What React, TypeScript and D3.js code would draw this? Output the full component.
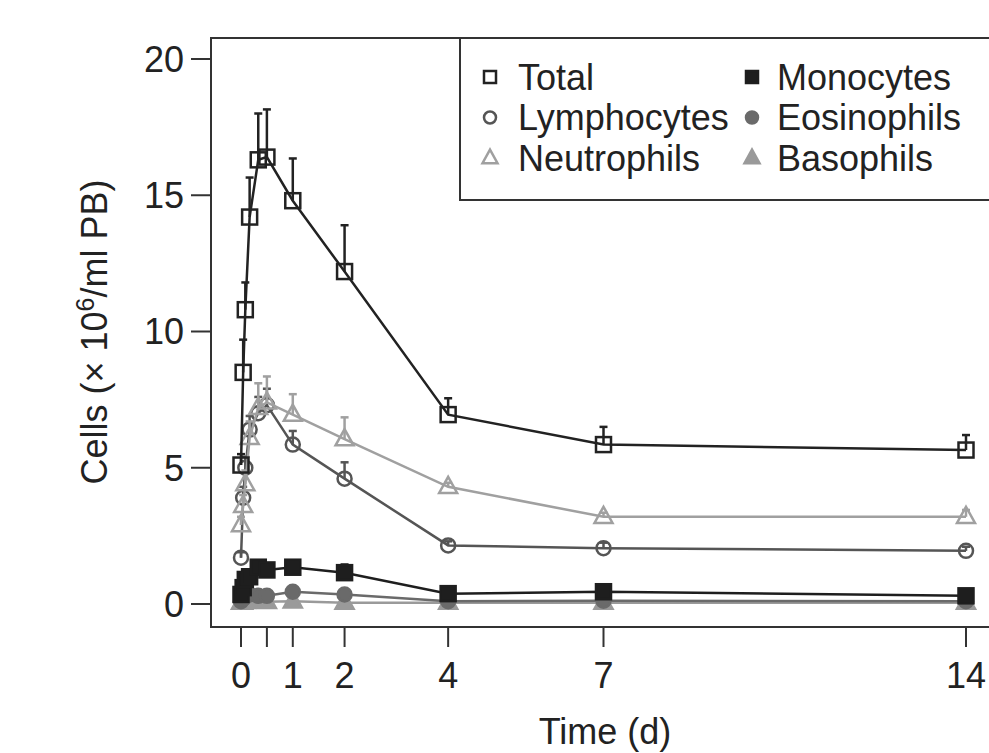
import React from 'react';
import * as d3 from 'd3';

// sampling times in days (0, 1h, 2h, 4h, 8h, 12h, then days)
const times = [0, 1 / 24, 2 / 24, 4 / 24, 8 / 24, 12 / 24, 1, 2, 4, 7, 14];
const xTicks = [0, 0.5, 1, 2, 4, 7, 14];
const xTickLabels = ['0', '', '1', '2', '4', '7', '14'];
const yTicks = [0, 5, 10, 15, 20];

const total = [5.1, 8.5, 10.8, 14.2, 16.3, 16.4, 14.8, 12.2, 6.95, 5.85, 5.65];
const totalErr = [0.4, 1.2, 1.0, 1.45, 1.7, 1.75, 1.55, 1.7, 0.6, 0.65, 0.55];
const lymphocytes = [1.7, 3.9, 5.0, 6.4, 7.0, 7.3, 5.85, 4.6, 2.15, 2.05, 1.95];
const lymphocytesErr = [0.2, 0.4, 0.4, 0.5, 0.6, 0.6, 0.5, 0.6, 0.15, 0.2, 0.15];
const neutrophils = [2.9, 3.6, 4.4, 6.1, 7.2, 7.4, 6.95, 6.05, 4.3, 3.2, 3.2];
const neutrophilsErr = [0.3, 0.4, 0.5, 0.6, 0.9, 0.95, 0.75, 0.8, 0.15, 0.15, 0.25];
const monocytes = [0.35, 0.6, 0.9, 1.0, 1.35, 1.25, 1.35, 1.15, 0.38, 0.45, 0.3];
const monocytesErr = [0.05, 0.1, 0.1, 0.15, 0.2, 0.1, 0.1, 0.3, 0.05, 0.05, 0.05];
const eosinophils = [0.1, 0.2, 0.3, 0.35, 0.3, 0.3, 0.45, 0.35, 0.1, 0.12, 0.1];
const eosinophilsErr = [0.02, 0.05, 0.05, 0.05, 0.05, 0.05, 0.1, 0.05, 0.02, 0.02, 0.02];
const basophils = [0.05, 0.05, 0.08, 0.1, 0.1, 0.08, 0.1, 0.05, 0.05, 0.05, 0.05];

type Shape = 'square' | 'circle' | 'triangle';
interface Series {
  name: string;
  values: number[];
  err: number[] | null;
  color: string;
  shape: Shape;
  filled: boolean;
}

const series: Series[] = [
  { name: 'Basophils', values: basophils, err: null, color: '#9a9a9a', shape: 'triangle', filled: true },
  { name: 'Eosinophils', values: eosinophils, err: eosinophilsErr, color: '#6a6a6a', shape: 'circle', filled: true },
  { name: 'Lymphocytes', values: lymphocytes, err: lymphocytesErr, color: '#555555', shape: 'circle', filled: false },
  { name: 'Neutrophils', values: neutrophils, err: neutrophilsErr, color: '#a0a0a0', shape: 'triangle', filled: false },
  { name: 'Monocytes', values: monocytes, err: monocytesErr, color: '#1e1e1e', shape: 'square', filled: true },
  { name: 'Total', values: total, err: totalErr, color: '#222222', shape: 'square', filled: false },
];

const legendOrder = ['Total', 'Lymphocytes', 'Neutrophils', 'Monocytes', 'Eosinophils', 'Basophils'];

const W = 989;
const H = 753;
const FONT = '"Liberation Sans", Arial, sans-serif';
const FS = 36;

const Marker = ({ shape, filled, color, x, y, s, sw }: { shape: Shape; filled: boolean; color: string; x: number; y: number; s: number; sw: number }) => {
  if (shape === 'square') {
    return <rect x={x - s / 2} y={y - s / 2} width={s} height={s} fill={filled ? color : 'none'} stroke={color} strokeWidth={sw} />;
  }
  if (shape === 'circle') {
    return <circle cx={x} cy={y} r={s / 2} fill={filled ? color : 'none'} stroke={color} strokeWidth={sw} />;
  }
  const h = s * 0.9;
  const pts = [[x, y - h * 0.62], [x + s / 2, y + h * 0.38], [x - s / 2, y + h * 0.38]];
  return <polygon points={pts.map(p => p.join(',')).join(' ')} fill={filled ? color : 'none'} stroke={color} strokeWidth={sw} />;
};

const App = () => {
  const x = d3.scaleLinear().domain([0, 14]).range([241, 966]);
  const y = d3.scaleLinear().domain([0, 20]).range([604, 59]);
  const line = d3.line<number>().x((_, i) => x(times[i])).y(d => y(d));

  const box = { left: 211, top: 38, right: 1000, bottom: 627 };

  return (
    <svg width={W} height={H} style={{ position: 'absolute', left: 0, top: 0, background: '#fff' }} fontFamily={FONT}>
      <rect x={0} y={0} width={W} height={H} fill="#fff" />
      {/* plot box */}
      <rect x={box.left} y={box.top} width={box.right - box.left} height={box.bottom - box.top} fill="none" stroke="#333" strokeWidth={2} />

      {/* y axis */}
      {yTicks.map(t => (
        <g key={t}>
          <line x1={191} x2={box.left} y1={y(t)} y2={y(t)} stroke="#333" strokeWidth={2} />
          <text x={184} y={y(t)} dy="0.36em" textAnchor="end" fontSize={FS} fill="#222">{t}</text>
        </g>
      ))}
      {/* x axis */}
      {xTicks.map((t, i) => (
        <g key={t}>
          <line x1={x(t)} x2={x(t)} y1={box.bottom} y2={647} stroke="#333" strokeWidth={2} />
          <text x={x(t)} y={688} textAnchor="middle" fontSize={FS} fill="#222">{xTickLabels[i]}</text>
        </g>
      ))}
      <text x={605} y={744} textAnchor="middle" fontSize={FS} fill="#222">Time (d)</text>
      <text transform="translate(107,332) rotate(-90)" textAnchor="middle" fontSize={FS} fill="#222">
        Cells (× 10<tspan dy={-13} fontSize={25}>6</tspan><tspan dy={13}>/ml PB)</tspan>
      </text>

      {/* series */}
      {series.map(s => (
        <g key={s.name}>
          <path d={line(s.values) || ''} fill="none" stroke={s.color} strokeWidth={2.5} />
          {s.err && s.values.map((v, i) => (
            <g key={i}>
              <line x1={x(times[i])} x2={x(times[i])} y1={y(v)} y2={y(v + s.err![i])} stroke={s.color} strokeWidth={2.5} />
              <line x1={x(times[i]) - 4} x2={x(times[i]) + 4} y1={y(v + s.err![i])} y2={y(v + s.err![i])} stroke={s.color} strokeWidth={2.5} />
            </g>
          ))}
          {s.values.map((v, i) => (
            <Marker key={i} shape={s.shape} filled={s.filled} color={s.color} x={x(times[i])} y={y(v)}
              s={s.shape === 'square' ? 15 : s.shape === 'circle' ? 14 : 18} sw={2.5} />
          ))}
        </g>
      ))}

      {/* legend */}
      <rect x={460} y={box.top} width={600} height={162} fill="#fff" stroke="#333" strokeWidth={2} />
      {legendOrder.map((name, i) => {
        const s = series.find(d => d.name === name)!;
        const col = Math.floor(i / 3);
        const row = i % 3;
        const lx = col === 0 ? 490 : 752;
        const ly = 77 + row * 40.5;
        return (
          <g key={name}>
            <Marker shape={s.shape} filled={s.filled} color={s.color} x={lx} y={ly} s={s.shape === 'triangle' ? 15 : 12} sw={2.5} />
            <text x={col === 0 ? 518 : 777} y={ly} dy="0.36em" fontSize={FS} fill="#222">{name}</text>
          </g>
        );
      })}
    </svg>
  );
};

export default App;
